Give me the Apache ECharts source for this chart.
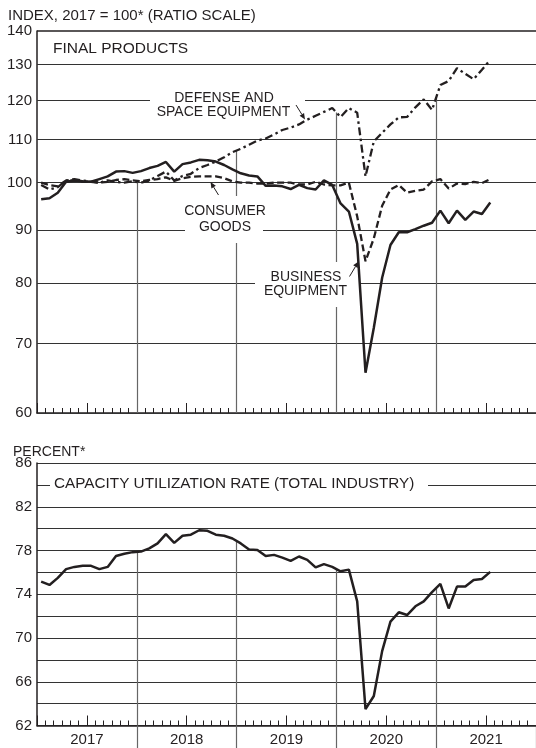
<!DOCTYPE html>
<html>
<head>
<meta charset="utf-8">
<script src="https://cdn.jsdelivr.net/npm/echarts@6/dist/echarts.min.js"></script>
<style>html,body{margin:0;padding:0;background:#fff}#c{width:536px;height:748px}</style>
</head>
<body>
<div id="c"></div>
<script>
// ---------- data (monthly, Jan 2017 .. Jul 2021) ----------
const years = ['2017', '2018', '2019', '2020', '2021'];
const months = [];
years.forEach(y => { for (let m = 1; m <= 12; m++) months.push(y + '-' + String(m).padStart(2, '0')); });
const obsMonths = months.slice(0, 55);

const business = [96.4, 96.6, 97.8, 100.2, 100.5, 100.3, 100.2, 100.8, 101.4, 102.5,
  102.6, 102.2, 102.6, 103.3, 103.8, 104.7, 102.5, 104.2, 104.6, 105.2,
  105.1, 104.8, 104.0, 103.0, 102.1, 101.6, 101.4, 99.3, 99.4, 99.2,
  98.6, 99.5, 98.8, 98.5, 100.5, 99.5, 95.5, 93.8, 87.3, 65.6,
  72.5, 81.0, 87.1, 89.6, 89.6, 90.2, 90.9, 91.5, 94.0, 91.4,
  94.0, 92.1, 93.8, 93.3, 95.7];
const consumer = [100.0, 99.5, 99.2, 100.5, 100.5, 100.2, 100.3, 100.0, 100.2, 100.6,
  100.8, 100.5, 100.3, 100.6, 100.8, 101.2, 100.4, 101.0, 101.3, 101.4,
  101.4, 101.4, 101.0, 100.3, 100.0, 100.0, 99.8, 99.8, 100.0, 100.0,
  100.0, 99.6, 99.6, 100.2, 99.6, 99.4, 99.4, 100.0, 92.8, 84.0,
  88.4, 95.0, 98.5, 99.5, 97.8, 98.2, 98.5, 100.3, 100.8, 98.7,
  99.8, 99.7, 100.2, 99.9, 100.8];
const defense = [99.5, 98.5, 99.0, 100.5, 100.8, 100.5, 100.2, 100.0, 100.5, 100.2,
  100.0, 100.3, 100.0, 100.5, 101.5, 102.5, 100.5, 101.5, 102.0, 103.3,
  104.0, 104.8, 105.8, 107.0, 107.8, 108.8, 109.8, 110.3, 111.3, 112.4,
  113.0, 113.8, 115.0, 116.0, 117.0, 118.0, 115.7, 118.0, 116.8, 101.4,
  109.6, 111.7, 113.8, 115.6, 115.7, 118.2, 120.3, 117.5, 124.2, 125.3,
  128.9, 127.3, 125.8, 128.5, 131.3];
const capUtil = [75.15, 74.85, 75.5, 76.3, 76.5, 76.6, 76.6, 76.3, 76.5, 77.5,
  77.7, 77.85, 77.9, 78.2, 78.65, 79.5, 78.7, 79.35, 79.45, 79.85,
  79.8, 79.45, 79.35, 79.1, 78.65, 78.1, 78.05, 77.5, 77.6, 77.35,
  77.05, 77.45, 77.15, 76.45, 76.75, 76.5, 76.1, 76.25, 73.35, 63.5,
  64.7, 68.8, 71.5, 72.35, 72.1, 72.9, 73.35, 74.2, 74.95, 72.7,
  74.7, 74.7, 75.3, 75.4, 76.05];

const indexTicks = [60, 70, 80, 90, 100, 110, 120, 130, 140];
const cuTicks = [62, 66, 70, 74, 78, 82, 86];

// ---------- helpers ----------
const FONT = '"Liberation Sans", Arial, sans-serif';
const INK = '#231f20';
const GRIDC = '#333';
const VLINE = '#666';
const nMonths = months.length;               // 60
const yearStarts = [12, 24, 36, 48];          // month index of Jan 2018..2021

const toPts = arr => obsMonths.map((m, i) => [months.indexOf(m) + 0.5, arr[i]]);
const atBoundary = (arr, b) => (arr[b - 1] + arr[b]) / 2;

function monthAxes(g) {
  return [
    { type: 'value', gridIndex: g, position: 'bottom', min: 0, max: nMonths, interval: 12,
      axisLine: { show: true, onZero: false, lineStyle: { color: INK, width: 1.5 } },
      axisTick: { show: true, inside: true, length: 5, lineStyle: { color: INK, width: 1 } },
      minorTick: { show: true, splitNumber: 12, length: 5, lineStyle: { color: INK, width: 1 } },
      axisLabel: { show: false }, splitLine: { show: false }, minorSplitLine: { show: false } },
    { type: 'value', gridIndex: g, position: 'bottom', min: 0, max: nMonths, interval: 6,
      axisLine: { show: false, onZero: false },
      axisTick: { show: true, inside: true, length: 10, lineStyle: { color: INK, width: 1 } },
      axisLabel: { show: false }, splitLine: { show: false } }
  ];
}

function arrow(x1, y1, x2, y2) {
  const dx = x2 - x1, dy = y2 - y1, L = Math.hypot(dx, dy);
  const ux = dx / L, uy = dy / L, hl = 6, hw = 2.6;
  const bx = x2 - ux * hl, by = y2 - uy * hl;
  return [
    { type: 'line', z: 20, shape: { x1: x1, y1: y1, x2: bx, y2: by }, style: { stroke: INK, lineWidth: 1 } },
    { type: 'polygon', z: 20, shape: { points: [[x2, y2], [bx - uy * hw, by + ux * hw], [bx + uy * hw, by - ux * hw]] },
      style: { fill: INK } }
  ];
}
function txt(s, x, y, size, align) {
  return { type: 'text', z: 20, style: { text: s, x: x, y: y, fill: INK, font: size + 'px ' + FONT,
    align: align, textAlign: align, verticalAlign: 'middle', textVerticalAlign: 'middle' } };
}
function mask(x, y, w, h) {
  return { type: 'rect', z: 1.5, shape: { x: x, y: y, width: w, height: h }, style: { fill: '#fff' } };
}

const hLines = indexTicks.map(t => ({
  yAxis: t,
  lineStyle: { color: t === 140 ? INK : GRIDC, width: t === 140 ? 1.5 : 1, type: 'solid' },
  label: { show: true, position: 'start', distance: 5, formatter: String(t), color: INK, fontSize: 15, fontFamily: FONT }
}));
const vLinesTop = yearStarts.map(b => [
  { coord: [b, indexTicks[0]], lineStyle: { color: VLINE, width: 1.2, type: 'solid' }, label: { show: false } },
  { coord: [b, atBoundary(defense, b)] }
]);
const vLinesBot = yearStarts.map(b => [
  { coord: [b, cuTicks[0]], lineStyle: { color: VLINE, width: 1.2, type: 'solid' }, label: { show: false } },
  { coord: [b, atBoundary(capUtil, b)] }
]);

const lineBase = { type: 'line', showSymbol: false, symbol: 'none', smooth: false, animation: false, silent: true, z: 2 };

const option = {
  animation: false,
  backgroundColor: '#fff',
  grid: [
    { left: 37, top: 31, width: 502.5, height: 382, containLabel: false },
    { left: 37, top: 463, width: 502.5, height: 262.5, containLabel: false }
  ],
  xAxis: [
    ...monthAxes(0),
    ...monthAxes(1),
    { type: 'category', gridIndex: 1, position: 'bottom', data: years, boundaryGap: true,
      axisLine: { show: false, onZero: false },
      axisTick: { show: true, inside: false, length: 23, interval: (i) => i !== 0, lineStyle: { color: VLINE, width: 1.2 } },
      axisLabel: { show: true, color: INK, fontSize: 15, fontFamily: FONT, margin: 7 },
      splitLine: { show: false } }
  ],
  yAxis: [
    { type: 'log', gridIndex: 0, logBase: 10, min: indexTicks[0], max: indexTicks[indexTicks.length - 1],
      axisLine: { show: true, lineStyle: { color: INK, width: 1.5 } },
      axisTick: { show: false }, axisLabel: { show: false }, splitLine: { show: false } },
    { type: 'value', gridIndex: 1, min: 62, max: 86, interval: 2,
      axisLine: { show: true, lineStyle: { color: INK, width: 1.5 } },
      axisTick: { show: false },
      axisLabel: { show: true, color: INK, fontSize: 15, fontFamily: FONT, margin: 5,
        formatter: v => (cuTicks.indexOf(v) >= 0 ? String(v) : '') },
      splitLine: { show: true, lineStyle: { color: GRIDC, width: 1 } } }
  ],
  series: [
    Object.assign({}, lineBase, { name: 'Defense and space equipment', xAxisIndex: 0, yAxisIndex: 0, data: toPts(defense),
      lineStyle: { color: INK, width: 2.3, type: [8, 3.5, 2.5, 3.5] },
      markLine: { silent: true, z: 1, animation: false, symbol: ['none', 'none'], data: [...hLines, ...vLinesTop] } }),
    Object.assign({}, lineBase, { name: 'Consumer goods', xAxisIndex: 0, yAxisIndex: 0, data: toPts(consumer),
      lineStyle: { color: INK, width: 2.3, type: [7, 3.5] } }),
    Object.assign({}, lineBase, { name: 'Business equipment', xAxisIndex: 0, yAxisIndex: 0, data: toPts(business),
      lineStyle: { color: INK, width: 2.5, type: 'solid' } }),
    Object.assign({}, lineBase, { name: 'Capacity utilization', xAxisIndex: 2, yAxisIndex: 1, data: toPts(capUtil),
      lineStyle: { color: INK, width: 2.5, type: 'solid' },
      markLine: { silent: true, z: 1, animation: false, symbol: ['none', 'none'], data: vLinesBot } })
  ],
  graphic: [
    mask(150, 90, 155, 30),
    mask(180, 196, 90, 23),
    mask(185, 219, 78, 24),
    mask(255, 262, 105, 45),
    mask(50, 475, 378, 20),
    txt('INDEX, 2017 = 100* (RATIO SCALE)', 8, 15.5, 15, 'left'),
    txt('FINAL PRODUCTS', 53, 49, 15.5, 'left'),
    txt('DEFENSE AND', 224, 98, 14, 'center'),
    txt('SPACE EQUIPMENT', 223.5, 112.5, 14, 'center'),
    txt('CONSUMER', 225, 211, 14, 'center'),
    txt('GOODS', 225, 227.5, 14, 'center'),
    txt('BUSINESS', 306, 277.5, 14, 'center'),
    txt('EQUIPMENT', 305.5, 291.5, 14, 'center'),
    txt('PERCENT*', 13, 452, 14, 'left'),
    txt('CAPACITY UTILIZATION RATE (TOTAL INDUSTRY)', 54, 484, 15.3, 'left'),
    ...arrow(296, 105, 305, 119.5),
    ...arrow(218.5, 195, 210.5, 182),
    ...arrow(349.5, 276.5, 358.5, 261.5)
  ]
};

const chart = echarts.init(document.getElementById('c'), null, { renderer: 'canvas', width: 536, height: 748 });
chart.setOption(option);
</script>
</body>
</html>
